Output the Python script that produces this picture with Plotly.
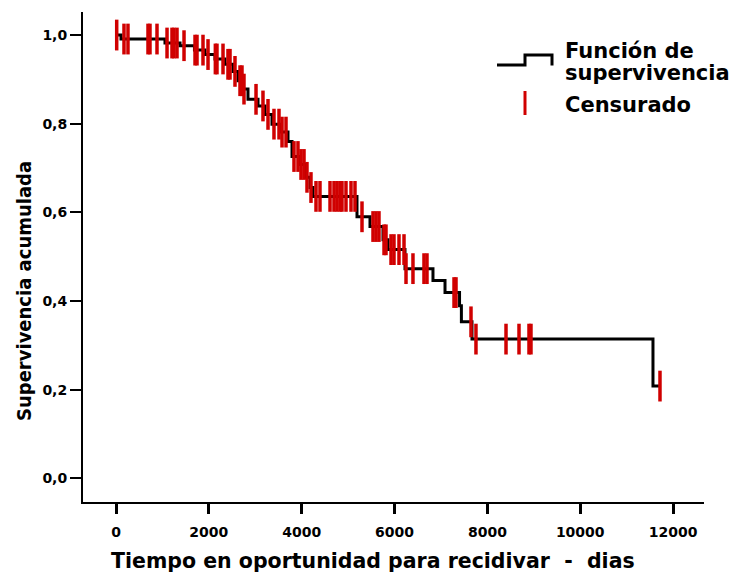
import numpy as np
import plotly.graph_objects as go

# Kaplan-Meier estimate: event times (days) and survival after each event
event_days = [108, 1055, 1379, 1690, 1917, 2132, 2348, 2520, 2628, 2736, 2843,
              3059, 3209, 3360, 3532, 3705, 3791, 3963, 4071, 4179, 4243,
              5191, 5471, 5751, 5859, 6225, 6828, 7087, 7400, 7440, 7668, 11567]
event_survival = [0.991, 0.982, 0.976, 0.966, 0.956, 0.946, 0.934, 0.918, 0.897,
                  0.878, 0.855, 0.840, 0.821, 0.799, 0.781, 0.760, 0.726, 0.708,
                  0.679, 0.656, 0.636, 0.590, 0.568, 0.538, 0.516, 0.473, 0.446,
                  0.419, 0.389, 0.353, 0.314, 0.208]

# Censored observations (days)
censored_days = [15, 172, 258, 689, 732, 883, 1099, 1206, 1249, 1314, 1465, 1702,
                 1745, 1874, 1982, 2140, 2175, 2305, 2412, 2456, 2563, 2671, 2714,
                 2757, 3016, 3166, 3274, 3403, 3511, 3576, 3662, 3834, 3920, 3985,
                 4050, 4114, 4200, 4308, 4394, 4610, 4696, 4760, 4825, 4868, 4954,
                 5062, 5148, 5299, 5536, 5600, 5665, 5773, 5816, 5924, 5988, 6096,
                 6204, 6247, 6397, 6634, 6699, 7281, 7324, 7647, 7754, 8401, 8681,
                 8896, 8939, 11718]

x_ticks = [0, 2000, 4000, 6000, 8000, 10000, 12000]
x_tick_labels = ["0", "2000", "4000", "6000", "8000", "10000", "12000"]
y_ticks = [0.0, 0.2, 0.4, 0.6, 0.8, 1.0]

x_title = "Tiempo en oportunidad para recidivar \u00a0-\u00a0 dias"
y_title = "Supervivencia acumulada"
legend_labels = ["Función de", "supervivencia", "Censurado"]

# Step function value at any time
ev_t = np.array(event_days, dtype=float)
ev_s = np.array(event_survival, dtype=float)


def surv_at(t):
    idx = np.searchsorted(ev_t, t, side="right")
    return np.where(idx == 0, 1.0, ev_s[np.maximum(idx - 1, 0)])


cens_t = np.array(censored_days, dtype=float)
cens_s = surv_at(cens_t)

line_x = [0] + event_days + [censored_days[-1]]
line_y = [1.0] + event_survival + [event_survival[-1]]

BLACK = "#000000"
RED = "#d00000"
BOLD = dict(family="DejaVu Sans", color="#000000", weight="bold")

fig = go.Figure()
fig.add_trace(go.Scatter(x=line_x, y=line_y, mode="lines",
                         line=dict(color=BLACK, width=3, shape="hv"),
                         hoverinfo="skip", showlegend=False))
fig.add_trace(go.Scatter(x=cens_t, y=cens_s, mode="markers",
                         marker=dict(symbol="line-ns", size=22,
                                     line=dict(color=RED, width=3.5)),
                         showlegend=False))

# plot area in pixels: x 83..704, y 12..502
L, R, T, B = 83, 704, 12, 502


def px(x):
    return (x - L) / (R - L)


def py(y):
    return (B - y) / (B - T)


shapes = [
    dict(type="path", xref="paper", yref="paper",
         path=f"M {px(497)},{py(65)} L {px(525)},{py(65)} L {px(525)},{py(55)} "
              f"L {px(552)},{py(55)} L {px(552)},{py(65.5)}",
         line=dict(color=BLACK, width=3)),
    dict(type="line", xref="paper", yref="paper",
         x0=px(525), x1=px(525), y0=py(91), y1=py(115),
         line=dict(color=RED, width=3)),
]

annotations = [
    dict(text=legend_labels[0], x=px(563), y=py(51), xref="paper", yref="paper",
         xanchor="left", yanchor="middle", showarrow=False,
         font=dict(size=21, **BOLD)),
    dict(text=legend_labels[1], x=px(563), y=py(73), xref="paper", yref="paper",
         xanchor="left", yanchor="middle", showarrow=False,
         font=dict(size=21, **BOLD)),
    dict(text=legend_labels[2], x=px(563), y=py(105), xref="paper", yref="paper",
         xanchor="left", yanchor="middle", showarrow=False,
         font=dict(size=21, **BOLD)),
    dict(text=x_title, x=px(373), y=py(561), xref="paper", yref="paper",
         xanchor="center", yanchor="middle", showarrow=False,
         font=dict(size=20.5, **BOLD)),
    dict(text=y_title, x=px(24), y=py(291), xref="paper", yref="paper",
         xanchor="center", yanchor="middle", showarrow=False, textangle=-90,
         font=dict(size=20, family="DejaVu Sans Condensed, sans-serif",
                   color="#000000", weight="bold")),
]

fig.update_layout(
    width=732, height=573,
    margin=dict(l=L, r=732 - R, t=T, b=573 - B, pad=0),
    paper_bgcolor="white", plot_bgcolor="white",
    separators=",.",
    shapes=shapes, annotations=annotations,
    showlegend=False,
)
fig.update_xaxes(range=[-711, 12666], tickvals=x_ticks, ticktext=x_tick_labels,
                 showgrid=False, zeroline=False,
                 showline=True, linecolor=BLACK, linewidth=2,
                 ticks="outside", ticklen=10, tickwidth=2.5, tickcolor=BLACK,
                 tickfont=dict(size=14, **BOLD), ticklabelstandoff=6)
fig.update_yaxes(range=[-0.0535, 1.052], tickvals=y_ticks, tickformat=".1f",
                 showgrid=False, zeroline=False,
                 showline=True, linecolor=BLACK, linewidth=2,
                 ticks="outside", ticklen=11, tickwidth=2, tickcolor=BLACK,
                 tickfont=dict(size=14, **BOLD))

fig.write_html("out.html")
